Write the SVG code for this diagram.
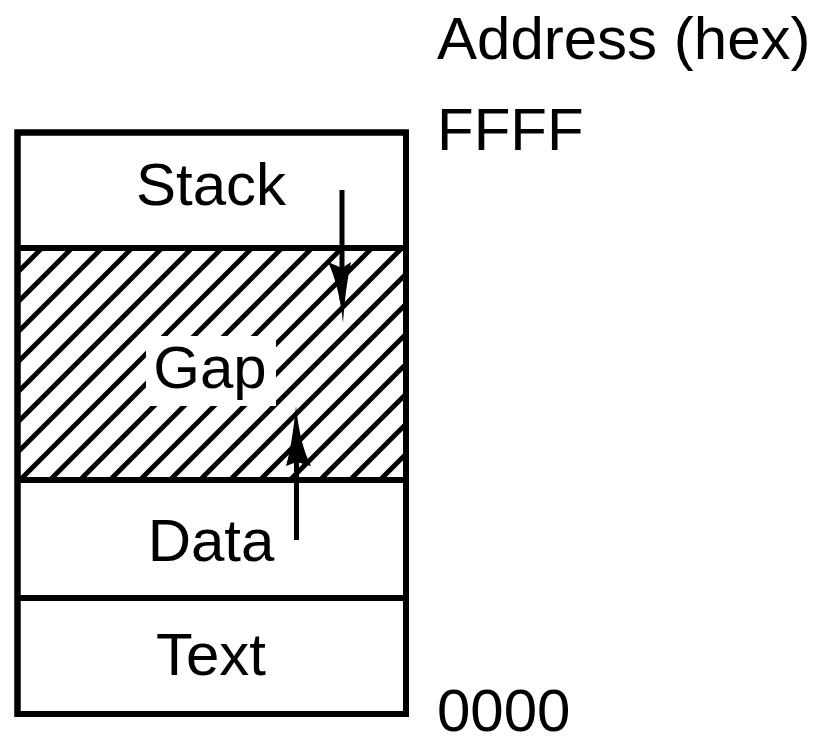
<svg xmlns="http://www.w3.org/2000/svg" width="829" height="739" viewBox="0 0 829 739">
<style>
  .lbl { font-family: "Liberation Sans", Arial, sans-serif; font-size: 60px; fill: #000; }
  .mid { text-anchor: middle; }
  .box { fill: #fff; stroke: #000; stroke-width: 6; }
  .sep { stroke: #000; stroke-width: 6; fill: none; }
  .shaft { stroke: #000; stroke-width: 5; fill: none; }
  .head { fill: #000; stroke: none; }
</style>
<defs>
  <pattern id="hatch" patternUnits="userSpaceOnUse" x="0" y="0" width="30" height="30">
    <path d="M-5,25 L25,-5 M15,35 L35,15" stroke="#000" stroke-width="4.8" fill="none"/>
  </pattern>
</defs>
<rect width="829" height="739" fill="#fff"/>
<g id="memory">
  <rect x="17.5" y="132.5" width="388.5" height="581.5" class="box"/>
  <g id="stack">
    <text x="211" y="205" class="lbl mid">Stack</text>
  </g>
  <g id="gap">
    <rect x="17.5" y="248" width="388.5" height="232" fill="url(#hatch)"/>
    <rect x="146" y="336" width="130" height="70" fill="#fff"/>
    <text x="210" y="388" class="lbl mid">Gap</text>
  </g>
  <g id="data">
    <text x="211" y="561" class="lbl mid">Data</text>
  </g>
  <g id="text">
    <text x="211" y="675" class="lbl mid">Text</text>
  </g>
  <line x1="17.5" y1="248" x2="406" y2="248" class="sep"/>
  <line x1="17.5" y1="480" x2="406" y2="480" class="sep"/>
  <line x1="17.5" y1="598" x2="406" y2="598" class="sep"/>
  <rect x="17.5" y="132.5" width="388.5" height="581.5" fill="none" stroke="#000" stroke-width="6"/>
</g>
<g id="connectors">
  <line x1="342" y1="190" x2="342" y2="300" class="shaft"/>
  <path class="head" d="M342,268 L328,262 Q339,285 343,323 Q345,290 351,262 Z"/>
  <line x1="296.5" y1="430" x2="296.5" y2="540" class="shaft"/>
  <path class="head" d="M296.5,462 L311,466 Q300,445 296,406 Q292,445 286,466 Z"/>
</g>
<g id="addresses">
  <text x="437" y="59" class="lbl">Address (hex)</text>
  <text x="437" y="150" class="lbl">FFFF</text>
  <text x="437" y="731" class="lbl">0000</text>
</g>
</svg>
